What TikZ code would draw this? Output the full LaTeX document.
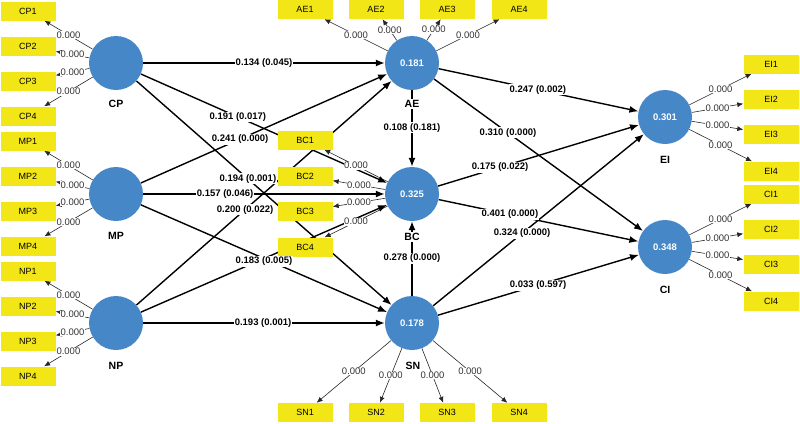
\documentclass[tikz,border=0pt]{standalone}
\usepackage{fontspec}
\setmainfont{Liberation Sans}
\usetikzlibrary{arrows.meta}
\pgfdeclarelayer{bg}
\pgfdeclarelayer{labs}
\pgfsetlayers{bg,main,labs}
\definecolor{lvblue}{RGB}{70,135,200}
\definecolor{indyel}{RGB}{242,230,22}
\newcommand\myconn[5]{%
  \begin{pgfonlayer}{bg}\draw[#1] (#2) -- (#3);\end{pgfonlayer}%
  \begin{pgfonlayer}{labs}\path (#2) -- node[#4]{#5} (#3);\end{pgfonlayer}}
\begin{document}
\begin{tikzpicture}[x=1pt,y=-1pt,
  lv/.style={circle,fill=lvblue,minimum size=54pt,inner sep=0pt,text=white,font=\fontsize{9.5}{10}\selectfont\bfseries},
  ind/.style={fill=indyel,minimum width=55pt,minimum height=19pt,inner sep=0pt,font=\fontsize{9}{9}\selectfont},
  lvname/.style={fill=white,inner sep=1pt,font=\fontsize{10.5}{11}\selectfont\bfseries},
  pth/.style={line width=1.4pt,-{Latex[length=9pt,width=7pt]}},
  ldg/.style={line width=0.6pt,black!85,-{Latex[length=6pt,width=5pt]}},
  coef/.style={fill=white,inner sep=1pt,font=\fontsize{9.5}{10}\selectfont\bfseries},
  lval/.style={fill=white,inner sep=0.5pt,font=\fontsize{9.5}{10}\selectfont,text=black!80}]
\useasboundingbox (0,0) rectangle (800,423);
% latent variables
\node[lv] (CP) at (116,63) {};
\node[lv] (MP) at (116,194) {};
\node[lv] (NP) at (116,323) {};
\node[lv] (AE) at (412,63) {0.181};
\node[lv] (BC) at (412,194) {0.325};
\node[lv] (SN) at (412,323) {0.178};
\node[lv] (EI) at (665,117) {0.301};
\node[lv] (CI) at (665,247) {0.348};
% indicators
\node[ind] (CP1) at (28,11) {CP1};
\node[ind] (CP2) at (28,46) {CP2};
\node[ind] (CP3) at (28,81) {CP3};
\node[ind] (CP4) at (28,116) {CP4};
\node[ind] (MP1) at (28,141) {MP1};
\node[ind] (MP2) at (28,176) {MP2};
\node[ind] (MP3) at (28,211) {MP3};
\node[ind] (MP4) at (28,246) {MP4};
\node[ind] (NP1) at (28,271) {NP1};
\node[ind] (NP2) at (28,306) {NP2};
\node[ind] (NP3) at (28,341) {NP3};
\node[ind] (NP4) at (28,376) {NP4};
\node[ind] (AE1) at (305,9.5) {AE1};
\node[ind] (AE2) at (376,9.5) {AE2};
\node[ind] (AE3) at (447,9.5) {AE3};
\node[ind] (AE4) at (519,9.5) {AE4};
\node[ind] (BC1) at (305,140) {BC1};
\node[ind] (BC2) at (305,176) {BC2};
\node[ind] (BC3) at (305,211) {BC3};
\node[ind] (BC4) at (305,247) {BC4};
\node[ind] (SN1) at (305,412.5) {SN1};
\node[ind] (SN2) at (376,412.5) {SN2};
\node[ind] (SN3) at (447,412.5) {SN3};
\node[ind] (SN4) at (519,412.5) {SN4};
\node[ind] (EI1) at (771,64) {EI1};
\node[ind] (EI2) at (771,99) {EI2};
\node[ind] (EI3) at (771,134) {EI3};
\node[ind] (EI4) at (771,171) {EI4};
\node[ind] (CI1) at (771,194) {CI1};
\node[ind] (CI2) at (771,229) {CI2};
\node[ind] (CI3) at (771,264) {CI3};
\node[ind] (CI4) at (771,301) {CI4};
% loadings
\foreach \lv in {CP,MP,NP,AE,BC,SN,EI,CI}{
  \foreach \i in {1,2,3,4}{
    \myconn{ldg}{\lv}{\lv\i}{lval}{0.000}
  }
}
% structural paths
\myconn{pth}{CP}{AE}{coef,pos=0.5}{0.134 (0.045)}
\myconn{pth}{CP}{BC}{coef,pos=0.394}{0.191 (0.017)}
\myconn{pth}{CP}{SN}{coef,pos=0.437}{0.194 (0.001)}
\myconn{pth}{MP}{AE}{coef,pos=0.403}{0.241 (0.000)}
\myconn{pth}{MP}{BC}{coef,pos=0.339}{0.157 (0.046)}
\myconn{pth}{MP}{SN}{coef,pos=0.5,yshift=-3pt}{0.183 (0.005)}
\myconn{pth}{NP}{AE}{coef,pos=0.426}{0.200 (0.022)}
\begin{pgfonlayer}{bg}\draw[pth] (NP) -- (BC);\end{pgfonlayer}
\myconn{pth}{NP}{SN}{coef,pos=0.496}{0.193 (0.001)}
\myconn{pth}{AE}{BC}{coef,pos=0.49}{0.108 (0.181)}
\myconn{pth}{SN}{BC}{coef,pos=0.5}{0.278 (0.000)}
\myconn{pth}{AE}{EI}{coef,pos=0.497}{0.247 (0.002)}
\myconn{pth}{AE}{CI}{coef,pos=0.354}{0.310 (0.000)}
\myconn{pth}{BC}{EI}{coef,pos=0.309}{0.175 (0.022)}
\myconn{pth}{BC}{CI}{coef,pos=0.357}{0.401 (0.000)}
\myconn{pth}{SN}{EI}{coef,pos=0.422}{0.324 (0.000)}
\myconn{pth}{SN}{CI}{coef,pos=0.498}{0.033 (0.597)}
% names
\node[lvname] (CPn) at (116,104) {CP};
\node[lvname] (MPn) at (116,236) {MP};
\node[lvname] (NPn) at (116,366) {NP};
\node[lvname] (AEn) at (412,104) {AE};
\node[lvname] (BCn) at (412,237) {BC};
\node[lvname] (SNn) at (413,366) {SN};
\node[lvname] (EIn) at (665,160) {EI};
\node[lvname] (CIn) at (665,290) {CI};
\end{tikzpicture}
\end{document}
